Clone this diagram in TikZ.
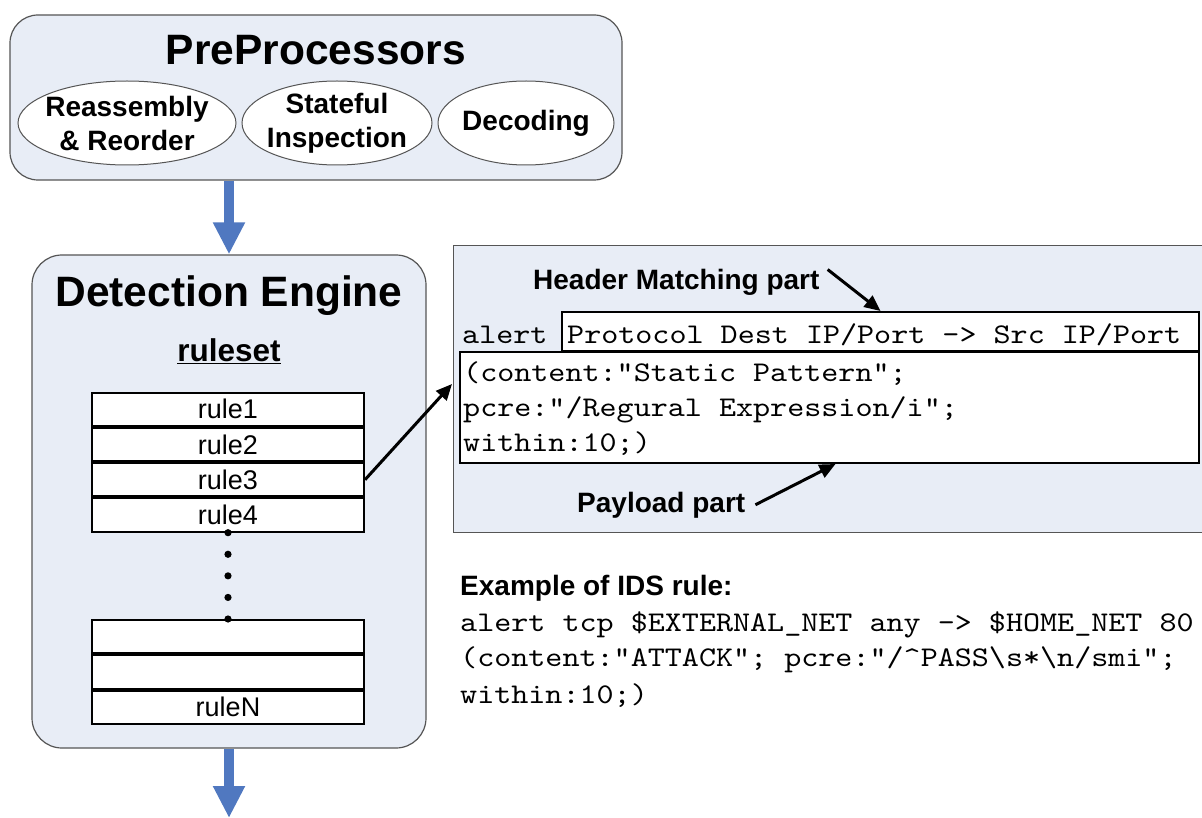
\documentclass[tikz,border=0pt]{standalone}
\usepackage{fontspec}
\setmainfont{Liberation Sans}
\newfontfamily\codefont{lmmono10-regular.otf}[FakeStretch=1.14]
\usetikzlibrary{arrows.meta,shapes.geometric,calc}
\definecolor{panelfill}{RGB}{232,237,246}
\definecolor{flowblue}{RGB}{80,120,192}
\definecolor{framegray}{RGB}{85,85,85}
\newcommand{\fsz}[2]{\fontsize{#1}{#2}\selectfont}

\begin{document}
\begin{tikzpicture}[x=1pt,y=-1pt,
  panel/.style={draw=framegray, line width=1.2pt, fill=panelfill, rounded corners=28pt, inner sep=0pt},
  proc/.style={ellipse, draw=framegray, line width=1pt, fill=white, inner sep=0pt, minimum height=84pt},
  proctext/.style={inner sep=0pt, align=center, font=\bfseries\fsz{28}{34}},
  rulebox/.style={draw=black, line width=2pt, fill=white, minimum width=272pt, minimum height=33.3pt, inner sep=0pt, font=\fsz{27}{30}},
  flow/.style={flowblue, line width=10pt, -{Triangle[length=32pt,width=30pt]}},
  pointer/.style={black, line width=3pt, -{Triangle[length=16pt,width=14pt]}},
  title/.style={inner sep=0pt, anchor=base, font=\bfseries\fsz{42.5}{48}},
  lbl/.style={inner sep=0pt, anchor=base west, font=\bfseries\fsz{28}{34}},
  codeline/.style={inner sep=0pt, anchor=base west, font=\codefont\fsz{28.5}{35}},
  codebox/.style={draw=black, line width=2pt, fill=white, inner sep=0pt, anchor=north west},
]
\useasboundingbox (0,0) rectangle (1202,818);

% ---- preprocessing stage ----
\node[panel, minimum width=612pt, minimum height=165pt] (pre) at (316,97.5) {};
\node[title] (preT) at (316,65) {PreProcessors};
\node[proc, minimum width=218pt] (reasm) at (127,123) {};
\node[proc, minimum width=190pt] (state) at (337,123) {};
\node[proc, minimum width=176pt] (decode) at (526,123) {};
\node[proctext] (reasmT) at (reasm) {Reassembly\\\& Reorder};
\node[proctext] (stateT) at (state) {Stateful\\Inspection};
\node[proctext] (decodeT) at (decode) {Decoding};

% ---- detection engine ----
\node[panel, rounded corners=30pt, minimum width=394pt, minimum height=493pt] (det) at (229,501.5) {};
\node[title] (detT) at (229,307) {Detection Engine};
\node[inner sep=0pt, anchor=base, font=\bfseries\fsz{31.5}{36}] (rs) at (229,361) {\underline{ruleset}};

\node[rulebox] (r1) at (228,409.15) {rule1};
\node[rulebox, anchor=north] (r2) at (r1.south) {rule2};
\node[rulebox, anchor=north] (r3) at (r2.south) {rule3};
\node[rulebox, anchor=north] (r4) at (r3.south) {rule4};
\node[rulebox] (ra) at (228,636.65) {};
\node[rulebox, anchor=north] (rb) at (ra.south) {};
\node[rulebox, anchor=north] (rN) at (rb.south) {ruleN};
\foreach \i in {0,...,4}
  \fill ($(r4.south)!\i/4!(ra.north)$) circle (3.6pt);

% ---- flow between stages ----
\coordinate (outflow) at (229,818);
\draw[flow] (det.north |- pre.south) -- (det.north);
\draw[flow] (det.south) -- (outflow);

% ---- rule structure ----
\node[draw=framegray, line width=1.2pt, fill=panelfill, inner sep=0pt, anchor=north west,
      minimum width=770pt, minimum height=287pt] (ex) at (453,245) {};
\node[lbl] (hmp) at (533,290) {Header Matching part};
\node[codeline] (alert) at (462,344) {alert};
\node[codebox, minimum width=637pt, minimum height=39pt] (hbox) at (561,311) {};
\node[codeline] (hdr) at (567,344) {Protocol Dest IP/Port -> Src IP/Port};
\node[codebox, minimum width=739pt, minimum height=111pt] (pbox) at (459,351) {};
\node[codeline] (p1) at (463,381) {(content:"Static Pattern";};
\node[codeline] (p2) at (463,416) {pcre:"/Regural Expression/i";};
\node[codeline] (p3) at (463,451) {within:10;)};
\node[lbl] (pp) at (577,512) {Payload part};

\coordinate (ptip) at (452,384);
\draw[pointer] (r3.east) -- (ptip);
\draw[pointer] ([xshift=8pt]hmp.north east) -- (hbox.north);
\draw[pointer] ([xshift=10pt]pp.east) -- ([xshift=6pt]pbox.south);

% ---- example ----
\node[lbl] (exT) at (460,595) {Example of IDS rule:};
\node[codeline] (ex1) at (460,631) {alert tcp \$EXTERNAL\_NET any -> \$HOME\_NET 80};
\node[codeline] (ex2) at (460,666) {(content:"ATTACK"; pcre:"/\textasciicircum PASS\textbackslash s*\textbackslash n/smi";};
\node[codeline] (ex3) at (460,703) {within:10;)};
\end{tikzpicture}
\end{document}
